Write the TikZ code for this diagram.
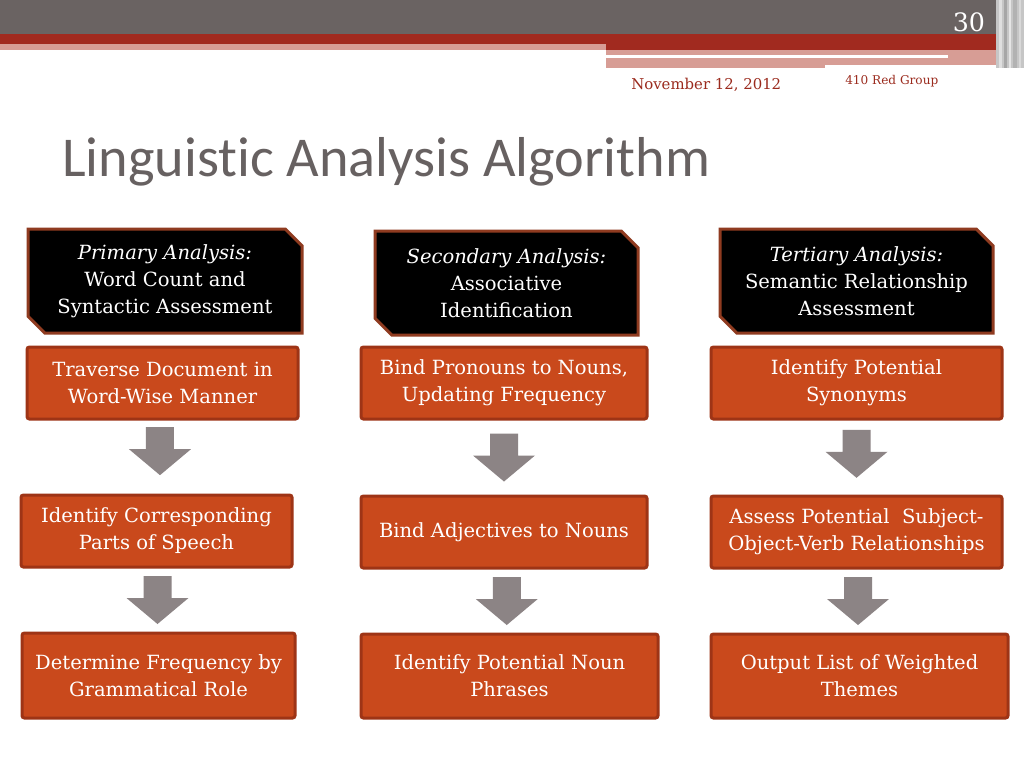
\documentclass[tikz,border=0pt]{standalone}
\usepackage{fontspec}
\setmainfont{DejaVu Serif}
\newfontfamily\titlefont[Ligatures=NoCommon]{Carlito}
\usetikzlibrary{shapes.misc,calc}

\definecolor{bandgray}{HTML}{6A6362}
\definecolor{bandred}{HTML}{A12A1F}
\definecolor{bandpink}{HTML}{D79D95}
\definecolor{taskfill}{HTML}{C9491C}
\definecolor{taskline}{HTML}{9E3416}
\definecolor{phaseline}{HTML}{8F3B20}
\definecolor{arrowgray}{HTML}{8C8485}
\definecolor{titlegray}{HTML}{676161}
\definecolor{datered}{HTML}{9B2B1E}

\tikzset{
  boxfont/.style={font=\fontsize{13.9}{19.2}\selectfont},
  boxdim/.style 2 args={minimum width=#1*0.25mm, minimum height=#2*0.25mm},
  phase/.style={chamfered rectangle, chamfered rectangle corners={north east,south west},
    chamfered rectangle xsep=2.1mm, chamfered rectangle ysep=2.1mm,
    fill=black, draw=phaseline, line width=0.75mm, text=white, align=center, inner sep=0pt, boxfont},
  task/.style={rectangle, rounded corners=0.6mm, fill=taskfill, draw=taskline,
    line width=0.75mm, text=white, align=center, inner sep=0pt, boxfont},
  downarrow/.pic={
    \fill[arrowgray] (-14,-24) -- (14,-24) -- (14,-2) -- (31,-2) -- (0,24) -- (-31,-2) -- (-14,-2) -- cycle;
  }
}

\begin{document}
\begin{tikzpicture}[x=0.25mm, y=-0.25mm]
  % Page
  \fill[white] (0,0) rectangle (1024,768);
  \useasboundingbox (0,0) rectangle (1024,768);

  % Header bands
  \fill[bandgray] (0,0) rectangle (1024,34);
  \fill[bandred] (0,34) rectangle (1012,44);
  \fill[bandpink] (0,44) rectangle (606,50);
  \fill[bandred] (606,44) rectangle (1012,50);
  \fill[bandpink] (606,50) rectangle (1005,65);
  \fill[bandpink] (606,65) rectangle (825,68);
  \fill[white] (606,55) rectangle (948,58);

  % Stripes at the right edge
  \fill[gray!45] (996,0) rectangle (1024,68);
  \fill[gray!25] (999,0) rectangle (1002,68);
  \fill[gray!70] (1004,0) rectangle (1007,68);
  \fill[gray!20] (1009,0) rectangle (1011,68);
  \fill[gray!60] (1013,0) rectangle (1017,68);
  \fill[gray!30] (1019,0) rectangle (1021,68);

  % Slide number, date, group
  \node[anchor=base east, text=white, font=\fontsize{18}{20}\selectfont] (num) at (990,31) {30};
  \node[anchor=base west, inner sep=0pt, text=datered, font=\fontsize{10.6}{12}\selectfont] (date) at (631,89) {November 12, 2012};
  \node[anchor=base west, inner sep=0pt, text=datered, font=\fontsize{8.6}{10}\selectfont] (group) at (845,84) {410 Red Group};

  % Title
  \node[anchor=base west, inner sep=0pt, text=titlegray, font=\titlefont\fontsize{40}{44}\selectfont] (title) at (62,176) {Linguistic Analysis Algorithm};

  % Phase headings
  \node[phase, boxdim={274}{104}] (primary) at (165,281) {\textit{Primary Analysis:}\\Word Count and\\Syntactic Assessment};
  \node[phase, boxdim={263}{104}] (secondary) at (506.5,283) {\textit{Secondary Analysis:}\\Associative\\Identification};
  \node[phase, boxdim={273}{104}] (tertiary) at (856.5,281) {\textit{Tertiary Analysis:}\\Semantic Relationship\\Assessment};

  % Primary steps
  \node[task, boxdim={271}{72}] (trav) at (162.5,383) {Traverse Document in\\Word-Wise Manner};
  \node[task, boxdim={271}{72}] (posp) at (156.5,531) {Identify Corresponding\\Parts of Speech};
  \node[task, boxdim={273}{85}] (freq) at (158.5,675.5) {Determine Frequency by\\Grammatical Role};

  % Secondary steps
  \node[task, boxdim={286}{72}] (bindpro) at (504,383) {Bind Pronouns to Nouns,\\Updating Frequency};
  \node[task, boxdim={286}{72}] (bindadj) at (504,532) {Bind Adjectives to Nouns};
  \node[task, boxdim={297}{84}] (nounph) at (509.5,676) {Identify Potential Noun\\Phrases};

  % Tertiary steps
  \node[task, boxdim={291}{72}] (synon) at (856.5,383) {Identify Potential\\Synonyms};
  \node[task, boxdim={291}{72}] (svo) at (856.5,532) {Assess Potential\ \ Subject-\\Object-Verb Relationships};
  \node[task, boxdim={297}{84}] (themes) at (859.5,676) {Output List of Weighted\\Themes};

  % Block arrows
  \pic at ($(trav.south)!0.42!(posp.north)$) {downarrow};
  \pic at ($(posp.south)!0.5!(freq.north)$) {downarrow};
  \pic at ($(bindpro.south)!0.5!(bindadj.north)$) {downarrow};
  \pic at ($(bindadj.south)!0.5!(nounph.north)$) {downarrow};
  \pic at ($(synon.south)!0.45!(svo.north)$) {downarrow};
  \pic at ($(svo.south)!0.5!(themes.north)$) {downarrow};
\end{tikzpicture}
\end{document}
